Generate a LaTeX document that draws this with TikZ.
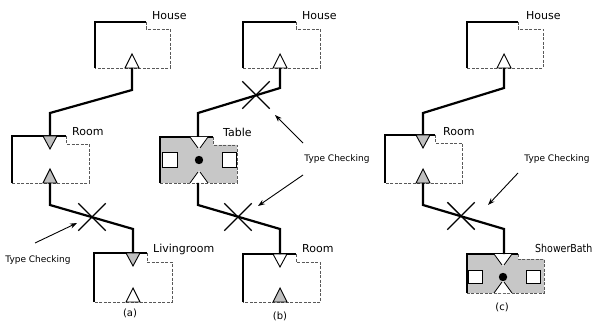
\documentclass[tikz,border=0pt]{standalone}
\usepackage{fontspec}
\setmainfont{DejaVu Sans}
\newfontfamily\narrowfont{DejaVu Sans}[FakeStretch=0.86]
\usetikzlibrary{shapes.misc,arrows.meta,calc}
\tikzset{
 solidedge/.style={line width=1.3pt, black},
 dashedge/.style={line width=0.9pt, black!65, dash pattern=on 3pt off 1.5pt},
 wire/.style={line width=2.2pt, black, line join=miter},
 portw/.style={draw=black, line width=0.9pt, fill=white},
 portg/.style={draw=black, line width=0.9pt, fill=black!25},
 lbl/.style={font=\fontsize{11}{13}\selectfont, inner sep=0pt, anchor=base west},
 sublbl/.style={font=\fontsize{10}{12}\selectfont, inner sep=0pt},
 tclbl/.style={font=\fontsize{9}{11}\selectfont, inner sep=0pt},
 xmark/.style={draw, cross out, line width=1.4pt, minimum size=26pt, inner sep=0pt},
 pointer/.style={-{Stealth[length=7pt,width=5pt]}, line width=0.9pt},
 bodyfill/.style={fill=black!22},
 socket/.style={draw=black, line width=1pt, fill=white},
}
% box outline: L T NX NY R B
\newcommand\compbox[6]{%
 \draw[solidedge] (#1,#6) -- (#1,#2) -- (#3,#2);
 \draw[dashedge] (#3,#2) -- (#3,#4) -- (#5,#4) -- (#5,#6) -- (#1,#6);
}
% down-pointing port at top edge: cx, top, style
\newcommand\downport[3]{\path[#3] (#1-7,#2) -- (#1+7,#2) -- (#1,#2+13) -- cycle;}
% up-pointing port at bottom edge: cx, bottom, style
\newcommand\upport[3]{\path[#3] (#1-7,#2) -- (#1+7,#2) -- (#1,#2-14) -- cycle;}
% filled component: L T NX NY R B cx
\newcommand\fillcomp[7]{%
 \path[bodyfill] (#1,#2) -- (#3,#2) -- (#3,#4) -- (#5,#4) -- (#5,#6) -- (#1,#6) -- cycle;
 \compbox{#1}{#2}{#3}{#4}{#5}{#6}
 \fill[white] (#7-9,#2) -- (#7+9,#2) -- (#7,#2+12) -- cycle;
 \draw[line width=0.8pt] (#7-9,#2) -- (#7-1,#2+11);
 \draw[line width=0.8pt] (#7+9,#2) -- (#7+1,#2+11);
 \fill[white] (#7-9,#6) -- (#7+9,#6) -- (#7,#6-12) -- cycle;
 \draw[line width=0.8pt] (#7-9,#6) -- (#7-1,#6-11);
 \draw[line width=0.8pt] (#7+9,#6) -- (#7+1,#6-11);
}
\begin{document}
\begin{tikzpicture}[x=1pt,y=-1pt]
\useasboundingbox (0,0) rectangle (593,328);

% ===== (a) =====
\compbox{95}{22}{146}{29}{170}{68}
\upport{132}{68}{portw}
\node[lbl] (houseA) at (152,20) {House};
\compbox{12}{136}{66}{144}{89}{183}
\downport{50}{136}{portg}
\upport{50}{183}{portg}
\node[lbl] (roomA) at (72,136) {Room};
\compbox{94}{253}{147}{262}{172}{302}
\downport{133}{253}{portg}
\upport{133}{302}{portw}
\node[lbl] (livingA) at (153,252) {Livingroom};
\coordinate (hAp) at (132,68);
\coordinate (rAin) at (50,136);
\coordinate (rAout) at (50,183);
\coordinate (lAin) at (133,253);
\draw[wire] (hAp) -- ($(hAp)+(0,22)$) -- ($(rAin)+(0,-23)$) -- (rAin);
\draw[wire] (rAout) -- ($(rAout)+(0,22)$) -- ($(lAin)+(0,-24)$) -- (lAin);
\node[xmark] (xA) at (92,217) {};
\node[tclbl] (tcA) at (38,260) {Type Checking};
\coordinate (pA0) at (35,243);
\coordinate (pA1) at (77,223);
\draw[pointer] (pA0) -- (pA1);
\node[sublbl] (capA) at (130,313) {(a)};

% ===== (b) =====
\compbox{243}{22}{296}{29}{320}{68}
\upport{280}{68}{portw}
\node[lbl] (houseB) at (302,20) {House};
\fillcomp{160}{137}{213}{145}{237}{183}{199}
\path[socket] (162,153) rectangle (177,168);
\path[socket] (222,153) rectangle (236,168);
\fill (199,160) circle (4.2pt);
\node[lbl] (tableB) at (223,137) {Table};
\compbox{243}{254}{296}{262}{320}{302}
\downport{280}{254}{portw}
\upport{280}{302}{portg}
\node[lbl] (roomB) at (302,252) {Room};
\coordinate (hBp) at (280,68);
\coordinate (tBin) at (198,137);
\coordinate (tBout) at (198,183);
\coordinate (rBin) at (280,254);
\draw[wire] (hBp) -- ($(hBp)+(0,20)$) -- ($(tBin)+(0,-24)$) -- (tBin);
\draw[wire] (tBout) -- ($(tBout)+(0,22)$) -- ($(rBin)+(0,-25)$) -- (rBin);
\node[xmark] (xB1) at (256,95) {};
\node[xmark] (xB2) at (238,217) {};
\node[tclbl] (tcB) at (337,159) {Type Checking};
\coordinate (pB0) at (303,143);
\coordinate (pB1) at (275,115);
\coordinate (pB2) at (303,175);
\coordinate (pB3) at (258,206);
\draw[pointer] (pB0) -- (pB1);
\draw[pointer] (pB2) -- (pB3);
\node[sublbl] (capB) at (280,316) {(b)};

% ===== (c) =====
\compbox{467}{22}{518}{29}{543}{68}
\upport{504}{68}{portw}
\node[lbl] (houseC) at (526,20) {House};
\compbox{385}{135}{435}{143}{462}{183}
\downport{423}{135}{portg}
\upport{423}{183}{portg}
\node[lbl] (roomC) at (443,136) {Room};
\fillcomp{467}{254}{518}{259}{544}{293}{503}
\path[socket] (468,270) rectangle (482,283);
\path[socket] (526,270) rectangle (540,283);
\fill (503,277) circle (4.2pt);
\node[lbl, font=\narrowfont\fontsize{11}{13}\selectfont] (showerC) at (535,252) {ShowerBath};
\coordinate (hCp) at (504,68);
\coordinate (rCin) at (423,135);
\coordinate (rCout) at (423,183);
\coordinate (sCin) at (504,254);
\draw[wire] (hCp) -- ($(hCp)+(0,20)$) -- ($(rCin)+(0,-22)$) -- (rCin);
\draw[wire] (rCout) -- ($(rCout)+(0,22)$) -- ($(sCin)+(0,-25)$) -- (sCin);
\node[xmark] (xC) at (461,216) {};
\node[tclbl] (tcC) at (557,159) {Type Checking};
\coordinate (pC0) at (518,173);
\coordinate (pC1) at (488,205);
\draw[pointer] (pC0) -- (pC1);
\node[sublbl] (capC) at (502,307) {(c)};
\end{tikzpicture}
\end{document}
